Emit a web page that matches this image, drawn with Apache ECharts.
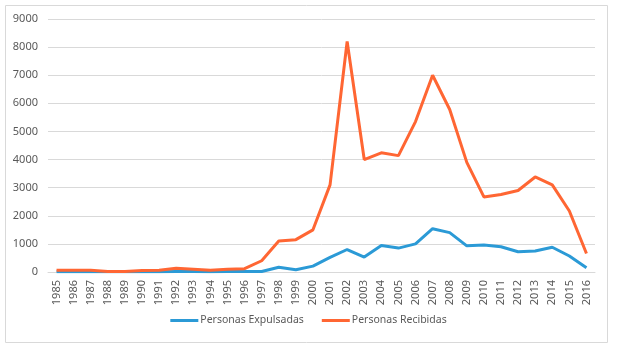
<!DOCTYPE html>
<html>
<head>
<meta charset="utf-8">
<script src="https://cdn.jsdelivr.net/npm/echarts@6/dist/echarts.min.js"></script>
<style>
html, body { margin: 0; padding: 0; background: #fff; }
#chart { width: 617px; height: 350px; }
</style>
</head>
<body>
<div id="chart"></div>
<script type="text/javascript">
	var years = ['1985','1986','1987','1988','1989','1990','1991','1992','1993','1994','1995','1996',
		'1997','1998','1999','2000','2001','2002','2003','2004','2005','2006','2007','2008',
		'2009','2010','2011','2012','2013','2014','2015','2016'];
	var expulsadas = [10, 10, 10, 5, 5, 10, 10, 20, 15, 10, 15, 20,
		20, 170, 80, 210, 520, 800, 530, 940, 850, 1000, 1540, 1400,
		930, 960, 900, 720, 750, 880, 570, 150];
	var recibidas = [60, 60, 60, 20, 20, 50, 60, 130, 100, 60, 100, 120,
		400, 1100, 1150, 1500, 3100, 8200, 4000, 4240, 4140, 5350, 7000, 5780,
		3900, 2670, 2760, 2900, 3380, 3100, 2170, 660];
	var yTicks = [0, 9000, 1000];

	var chart = echarts.init(document.getElementById('chart'));
	var txt = { color: '#595959', fontFamily: 'Noto Sans', fontSize: 11 };

	var option = {
		animation: false,
		graphic: [{
			type: 'rect',
			shape: { x: 5.5, y: 5.5, width: 602, height: 337 },
			style: { fill: 'none', stroke: '#d9d9d9', lineWidth: 1 },
			silent: true
		}],
		grid: { left: 48, right: 22, top: 19, bottom: 78 },
		legend: {
			bottom: 19,
			left: 'center',
			itemWidth: 28,
			itemHeight: 3,
			itemGap: 18,
			icon: 'rect',
			textStyle: { color: '#595959', fontFamily: 'Noto Sans', fontSize: 10.5, padding: [0, 0, 0, -3] },
			data: ['Personas Expulsadas', 'Personas Recibidas']
		},
		xAxis: {
			type: 'category',
			data: years,
			boundaryGap: true,
			axisLine: { lineStyle: { color: '#d9d9d9' } },
			axisTick: { show: false },
			axisLabel: Object.assign({ rotate: 90, interval: 0, margin: 8 }, txt)
		},
		yAxis: {
			type: 'value',
			min: yTicks[0],
			max: yTicks[1],
			interval: yTicks[2],
			axisLine: { show: false },
			axisTick: { show: false },
			axisLabel: Object.assign({ margin: 10, formatter: function (v) { return String(v); } }, txt),
			splitLine: { lineStyle: { color: '#d9d9d9' } }
		},
		series: [
			{
				name: 'Personas Expulsadas',
				type: 'line',
				data: expulsadas,
				showSymbol: false,
				lineStyle: { width: 3, color: '#2b9ad6' },
				itemStyle: { color: '#2b9ad6' }
			},
			{
				name: 'Personas Recibidas',
				type: 'line',
				data: recibidas,
				showSymbol: false,
				lineStyle: { width: 3, color: '#ff6633' },
				itemStyle: { color: '#ff6633' }
			}
		]
	};
	chart.setOption(option);
</script>
</body>
</html>
